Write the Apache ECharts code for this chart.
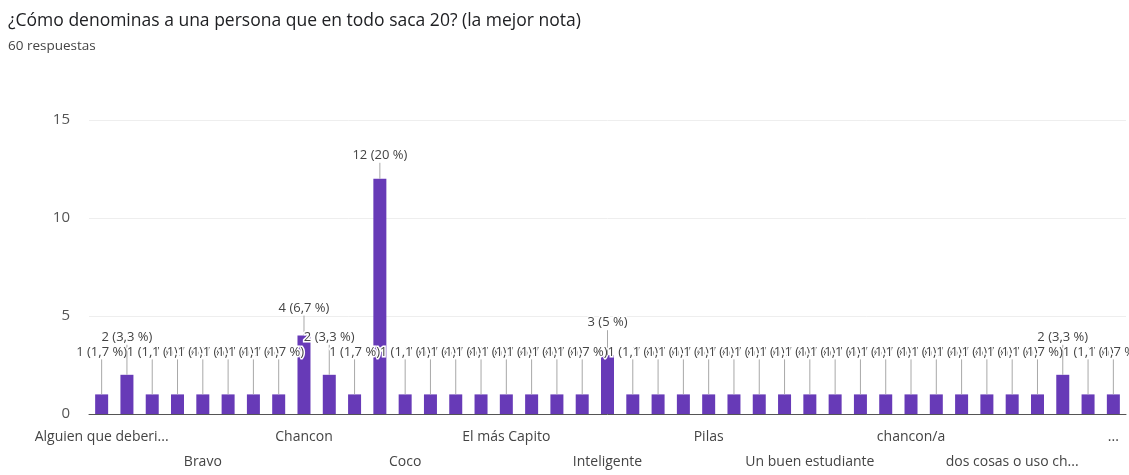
<!DOCTYPE html>
<html>
<head>
<meta charset="utf-8">
<script src="https://cdn.jsdelivr.net/npm/echarts@6/dist/echarts.min.js"></script>
<style>
  html, body { margin: 0; padding: 0; background: #ffffff; }
  #chart { width: 1129px; height: 475px; }
</style>
</head>
<body>
<div id="chart"></div>
<script>
// Survey question and response count
const titleText = '¿Cómo denominas a una persona que en todo saca 20? (la mejor nota)';
const subtitleText = '60 respuestas';

// Answer categories (alphabetical order); only every fourth name is shown on the axis
const categories = [
  'Alguien que deberi...', '', '', '',
  'Bravo', '', '', '',
  'Chancon', '', '', '',
  'Coco', '', '', '',
  'El más Capito', '', '', '',
  'Inteligente', '', '', '',
  'Pilas', '', '', '',
  'Un buen estudiante', '', '', '',
  'chancon/a', '', '', '',
  'dos cosas o uso ch...', '', '', '',
  '...'
];

// Number of answers per category
const counts = [
  1, 2, 1, 1, 1, 1, 1, 1, 4, 2, 1, 12, 1, 1, 1, 1, 1, 1, 1, 1,
  3, 1, 1, 1, 1, 1, 1, 1, 1, 1, 1, 1, 1, 1, 1, 1, 1, 1, 2, 1, 1
];

// Value axis ticks
const yTicks = [0, 5, 10, 15];

const total = counts.reduce((a, b) => a + b, 0);
function pctLabel(v) {
  let p = (v / total * 100).toFixed(1);
  if (p.endsWith('.0')) p = p.slice(0, -2);
  return v + ' (' + p.replace('.', ',') + ' %)';
}

const FONT = 'Open Sans, Roboto, sans-serif';
const chart = echarts.init(document.getElementById('chart'), null, { renderer: 'canvas' });

chart.setOption({
  backgroundColor: '#ffffff',
  animation: false,
  title: {
    text: titleText,
    subtext: subtitleText,
    left: 3,
    top: 7,
    itemGap: 9,
    textStyle: { fontFamily: FONT, fontSize: 17.5, fontWeight: 'normal', color: '#202124' },
    subtextStyle: { fontFamily: FONT, fontSize: 13.5, color: '#444444' }
  },
  grid: { left: 89, right: 3, top: 120, bottom: 61, containLabel: false },
  xAxis: {
    type: 'category',
    data: categories,
    axisTick: { show: false },
    axisLine: { show: true, lineStyle: { color: '#555555', width: 1 } },
    axisLabel: {
      interval: 3,
      margin: 11,
      lineHeight: 25,
      fontFamily: FONT,
      fontSize: 14,
      color: '#444444',
      formatter: (val, idx) => ((idx / 4) % 2 === 1 ? '\n' + val : val)
    },
    splitLine: { show: false }
  },
  yAxis: {
    type: 'value',
    min: yTicks[0],
    max: yTicks[yTicks.length - 1],
    interval: yTicks[1] - yTicks[0],
    axisLine: { show: false },
    axisTick: { show: false },
    axisLabel: { margin: 19, fontFamily: FONT, fontSize: 15, color: '#555555' },
    splitLine: { show: true, lineStyle: { color: '#eeeeee', width: 1 } }
  },
  series: [
    {
      name: 'Respuestas',
      type: 'bar',
      data: counts,
      barWidth: 13,
      itemStyle: { color: '#673ab7' },
      z: 2
    },
    {
      // value labels raised above each bar with a short leader line
      name: 'Etiquetas',
      type: 'custom',
      data: counts.map((v, i) => [i, v]),
      z: 3,
      renderItem: (params, api) => {
        const i = api.value(0);
        const v = api.value(1);
        const top = api.coord([i, v]);
        const lift = v >= 10 ? 16 : Math.max(16, 35 - 5 * (v - 1));
        return {
          type: 'group',
          children: [
            {
              type: 'line',
              shape: { x1: top[0], y1: top[1], x2: top[0], y2: top[1] - lift },
              style: { stroke: '#a8a8a8', lineWidth: 1 }
            },
            {
              type: 'text',
              x: top[0],
              y: top[1] - lift - 1,
              style: {
                text: pctLabel(v),
                align: 'center',
                verticalAlign: 'bottom',
                fontFamily: FONT,
                fontSize: 13,
                fill: '#444444',
                stroke: '#ffffff',
                lineWidth: 3,
                strokeFirst: true
              }
            }
          ]
        };
      }
    }
  ]
});
</script>
</body>
</html>
